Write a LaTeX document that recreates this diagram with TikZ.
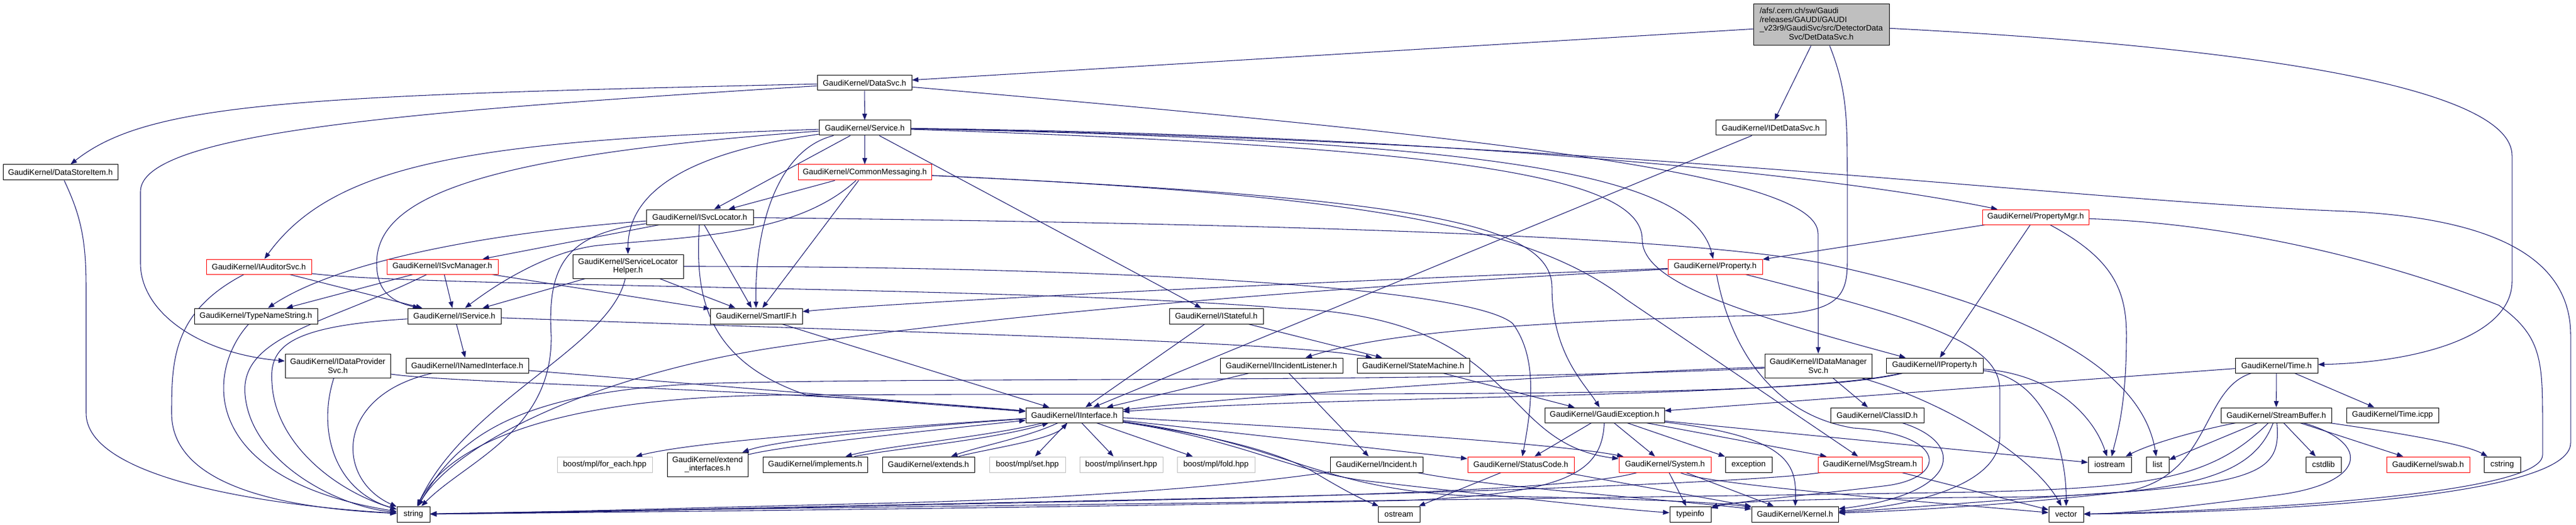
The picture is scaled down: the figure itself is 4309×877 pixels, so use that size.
\documentclass[tikz,border=0pt]{standalone}
\usepackage{fontspec}
\setmainfont{Liberation Sans}
\usetikzlibrary{arrows.meta}
\definecolor{edgec}{RGB}{25,25,112}
\definecolor{grey75}{RGB}{191,191,191}
\pgfdeclarelayer{bg}
\pgfsetlayers{bg,main}
\newcommand{\gn}[7][gbox]{\node[#1, minimum width={(#5-#3)*0.75pt}, minimum height={(#6-#4)*0.75pt}] (#2) at ({(#3+#5)/2},{(#4+#6)/2}) {#7};}
\begin{document}
\begin{tikzpicture}[x=0.75pt,y=-0.75pt,
  gbox/.style={draw=black, line width=0.75pt, fill=white, inner sep=0pt, align=center, font=\fontsize{10}{11}\selectfont, text=black},
  rbox/.style={gbox, draw=red},
  lbox/.style={gbox, draw=grey75},
  rootbox/.style={gbox, fill=grey75},
  dep/.style={draw=edgec, line width=0.8pt, -{Triangle[length=8pt,width=6pt]}}]
\useasboundingbox (0,0) rectangle (4309,877);

\gn[rootbox]{root}{2933}{7}{3160}{76}{\begin{tabular}{@{}l@{}}/afs/.cern.ch/sw/Gaudi\\/releases/GAUDI/GAUDI\\\_v23r9/GaudiSvc/src/DetectorData\\\multicolumn{1}{@{}c@{}}{Svc/DetDataSvc.h}\end{tabular}}
\gn{datasvc}{1367}{126}{1525}{151}{GaudiKernel/DataSvc.h}
\gn{service}{1370}{201}{1523}{226}{GaudiKernel/Service.h}
\gn{idetdatasvc}{2870}{201}{3054}{226}{GaudiKernel/IDetDataSvc.h}
\gn{datastoreitem}{5}{275}{197}{301}{GaudiKernel/DataStoreItem.h}
\gn[rbox]{commonmsg}{1335}{275}{1558}{301}{GaudiKernel/CommonMessaging.h}
\gn{isvclocator}{1081}{350}{1260}{375}{GaudiKernel/ISvcLocator.h}
\gn[rbox]{propertymgr}{3316}{350}{3494}{375}{GaudiKernel/PropertyMgr.h}
\gn[rbox]{iauditorsvc}{345}{433}{521}{458}{GaudiKernel/IAuditorSvc.h}
\gn[rbox]{isvcmanager}{647}{433}{833}{458}{GaudiKernel/ISvcManager.h}
\gn{svclochelper}{958}{425}{1143}{465}{GaudiKernel/ServiceLocator\\Helper.h}
\gn[rbox]{property}{2790}{433}{2948}{458}{GaudiKernel/Property.h}
\gn{typenamestring}{325}{515}{531}{541}{GaudiKernel/TypeNameString.h}
\gn{iservice}{682}{515}{838}{541}{GaudiKernel/IService.h}
\gn{smartif}{1188}{515}{1342}{541}{GaudiKernel/SmartIF.h}
\gn{istateful}{1956}{515}{2113}{541}{GaudiKernel/IStateful.h}
\gn{idataprovidersvc}{477}{591}{653}{631}{GaudiKernel/IDataProvider\\Svc.h}
\gn{inamedinterface}{679}{598}{884}{623}{GaudiKernel/INamedInterface.h}
\gn{iincidentlistener}{2041}{598}{2246}{623}{GaudiKernel/IIncidentListener.h}
\gn{statemachine}{2270}{598}{2458}{623}{GaudiKernel/StateMachine.h}
\gn{idatamanagersvc}{2952}{591}{3131}{631}{GaudiKernel/IDataManager\\Svc.h}
\gn{iproperty}{3155}{598}{3317}{623}{GaudiKernel/IProperty.h}
\gn{time}{3739}{598}{3877}{623}{GaudiKernel/Time.h}
\gn{iinterface}{1716}{681}{1878}{706}{GaudiKernel/IInterface.h}
\gn{gaudiexception}{2584}{681}{2784}{706}{GaudiKernel/GaudiException.h}
\gn{classid}{3062}{681}{3218}{706}{GaudiKernel/ClassID.h}
\gn{streambuffer}{3715}{681}{3900}{706}{GaudiKernel/StreamBuffer.h}
\gn{timeicpp}{3925}{681}{4079}{706}{GaudiKernel/Time.icpp}
\gn[lbox]{foreach}{932}{763}{1091}{789}{boost/mpl/for\_each.hpp}
\gn{extendinterfaces}{1116}{756}{1251}{796}{GaudiKernel/extend\\\_interfaces.h}
\gn{implements}{1276}{763}{1451}{789}{GaudiKernel/implements.h}
\gn{extends}{1476}{763}{1630}{789}{GaudiKernel/extends.h}
\gn[lbox]{mplset}{1655}{763}{1782}{789}{boost/mpl/set.hpp}
\gn[lbox]{mplinsert}{1806}{763}{1945}{789}{boost/mpl/insert.hpp}
\gn[lbox]{mplfold}{1969}{763}{2099}{789}{boost/mpl/fold.hpp}
\gn{incident}{2225}{763}{2380}{789}{GaudiKernel/Incident.h}
\gn[rbox]{statuscode}{2455}{763}{2633}{789}{GaudiKernel/StatusCode.h}
\gn[rbox]{system}{2708}{763}{2862}{789}{GaudiKernel/System.h}
\gn{exception}{2886}{763}{2964}{789}{exception}
\gn[rbox]{msgstream}{3041}{763}{3215}{789}{GaudiKernel/MsgStream.h}
\gn{iostream}{3493}{763}{3565}{789}{iostream}
\gn{list}{3590}{763}{3628}{789}{list}
\gn{cstdlib}{3857}{763}{3916}{789}{cstdlib}
\gn[rbox]{swab}{3992}{763}{4131}{789}{GaudiKernel/swab.h}
\gn{cstring}{4155}{763}{4216}{789}{cstring}
\gn{string}{664}{846}{719}{872}{string}
\gn{ostream}{2305}{846}{2375}{872}{ostream}
\gn{typeinfo}{2793}{846}{2862}{872}{typeinfo}
\gn{kernel}{2930}{846}{3075}{872}{GaudiKernel/Kernel.h}
\gn{vector}{3427}{846}{3485}{872}{vector}

\begin{pgfonlayer}{bg}
% root
\draw[dep] (root) -- (datasvc);
\draw[dep] (root) -- (idetdatasvc);
\draw[dep] (root) .. controls (3090,150) and (3090,200) .. (3090,300) -- (3090,440) .. controls (3090,510) and (3060,526) .. (2900,528) .. controls (2500,540) and (2300,560) .. (iincidentlistener);
\draw[dep] (root) .. controls (3800,80) and (4202,150) .. (4202,260) -- (4202,470) .. controls (4202,560) and (4050,605) .. (time);
% datasvc
\draw[dep] (datasvc) -- (service);
\draw[dep] (datasvc) .. controls (500,160) and (250,170) .. (datastoreitem);
\draw[dep] (datasvc) .. controls (700,185) and (235,220) .. (235,320) -- (235,440) .. controls (235,520) and (330,590) .. (idataprovidersvc);
\draw[dep] (datasvc) .. controls (2500,230) and (3041,290) .. (3041,390) -- (idatamanagersvc);
% service
\draw[dep] (service) -- (commonmsg);
\draw[dep] (service) -- (isvclocator);
\draw[dep] (service) .. controls (1150,255) and (1050,320) .. (svclochelper);
\draw[dep] (service) .. controls (800,235) and (560,270) .. (iauditorsvc);
\draw[dep] (service) .. controls (800,260) and (630,330) .. (630,440) .. controls (630,490) and (660,505) .. (iservice);
\draw[dep] (service) .. controls (1300,250) and (1262,380) .. (smartif);
\draw[dep] (service) -- (istateful);
\draw[dep] (service) .. controls (2400,225) and (3050,290) .. (propertymgr);
\draw[dep] (service) .. controls (2500,235) and (2830,290) .. (property);
\draw[dep] (service) .. controls (2400,245) and (2747,290) .. (2747,400) .. controls (2747,470) and (2900,520) .. (iproperty);
\draw[dep] (service) .. controls (2700,235) and (3400,330) .. (3900,352) .. controls (4150,360) and (4300,420) .. (4300,560) -- (4300,740) .. controls (4300,830) and (3800,856) .. (vector);
% commonmsg
\draw[dep] (commonmsg) -- (isvclocator);
\draw[dep] (commonmsg) -- (smartif);
\draw[dep] (commonmsg) .. controls (1330,395) and (1150,395) .. (1000,410) .. controls (930,418) and (850,460) .. (iservice);
\draw[dep] (commonmsg) .. controls (2350,330) and (2596,370) .. (2596,480) .. controls (2596,590) and (2650,640) .. (gaudiexception);
\draw[dep] (commonmsg) .. controls (2250,325) and (2550,370) .. (2720,500) -- (msgstream);
% isvclocator
\draw[dep] (isvclocator) -- (isvcmanager);
\draw[dep] (isvclocator) .. controls (800,390) and (560,440) .. (typenamestring);
\draw[dep] (isvclocator) .. controls (950,390) and (915,440) .. (922,560) .. controls (925,720) and (780,770) .. (string);
\draw[dep] (isvclocator) -- (smartif);
\draw[dep] (isvclocator) .. controls (1164,480) and (1170,600) .. (1350,660) -- (iinterface);
\draw[dep] (isvclocator) .. controls (2000,372) and (2800,390) .. (3050,440) .. controls (3350,505) and (3580,600) .. (list);
% svclochelper
\draw[dep] (svclochelper) -- (iservice);
\draw[dep] (svclochelper) -- (smartif);
\draw[dep] (svclochelper) .. controls (1020,580) and (780,670) .. (string);
\draw[dep] (svclochelper) .. controls (1800,445) and (2450,475) .. (2530,540) .. controls (2575,600) and (2560,690) .. (statuscode);
% iauditorsvc
\draw[dep] (iauditorsvc) .. controls (290,520) and (287,600) .. (287,690) .. controls (287,820) and (500,850) .. (string);
\draw[dep] (iauditorsvc) -- (iservice);
\draw[dep] (iauditorsvc) .. controls (700,480) and (1700,478) .. (2150,515) .. controls (2550,530) and (2500,740) .. (system);
% isvcmanager
\draw[dep] (isvcmanager) -- (typenamestring);
\draw[dep] (isvcmanager) -- (iservice);
\draw[dep] (isvcmanager) -- (smartif);
\draw[dep] (isvcmanager) .. controls (550,540) and (400,560) .. (410,660) .. controls (420,770) and (560,845) .. (string);
% typenamestring, iservice, inamedinterface, idataprovidersvc, datastoreitem
\draw[dep] (typenamestring) .. controls (345,620) and (330,800) .. (string);
\draw[dep] (iservice) -- (inamedinterface);
\draw[dep] (iservice) .. controls (480,545) and (450,580) .. (455,640) .. controls (460,740) and (560,820) .. (string);
\draw[dep] (iservice) .. controls (1500,555) and (2150,570) .. (statemachine);
\draw[dep] (inamedinterface) -- (iinterface);
\draw[dep] (inamedinterface) .. controls (560,660) and (560,800) .. (string);
\draw[dep] (idataprovidersvc) .. controls (750,640) and (1300,650) .. (iinterface);
\draw[dep] (idataprovidersvc) .. controls (530,720) and (560,820) .. (string);
\draw[dep] (datastoreitem) .. controls (135,360) and (144,400) .. (144,480) -- (144,690) .. controls (144,800) and (450,845) .. (string);
% middle
\draw[dep] (smartif) -- (iinterface);
\draw[dep] (istateful) -- (iinterface);
\draw[dep] (istateful) -- (statemachine);
\draw[dep] (iincidentlistener) -- (iinterface);
\draw[dep] (iincidentlistener) -- (incident);
\draw[dep] (statemachine) -- (gaudiexception);
\draw[dep] (idetdatasvc) -- (iinterface);
% idatamanagersvc
\draw[dep] (idatamanagersvc) .. controls (2700,620) and (2100,660) .. (iinterface);
\draw[dep] (idatamanagersvc) .. controls (2400,640) and (1600,630) .. (1200,640) .. controls (850,650) and (760,740) .. (string);
\draw[dep] (idatamanagersvc) -- (classid);
\draw[dep] (idatamanagersvc) .. controls (3250,670) and (3400,760) .. (vector);
% iproperty
\draw[dep] (iproperty) .. controls (3000,665) and (2250,660) .. (iinterface);
\draw[dep] (iproperty) .. controls (3000,668) and (2300,655) .. (1300,660) .. controls (880,665) and (740,760) .. (string);
\draw[dep] (iproperty) .. controls (3420,630) and (3457,750) .. (vector);
\draw[dep] (iproperty) .. controls (3430,625) and (3500,690) .. (iostream);
% propertymgr
\draw[dep] (propertymgr) -- (property);
\draw[dep] (propertymgr) -- (iproperty);
\draw[dep] (propertymgr) .. controls (3530,430) and (3557,480) .. (3557,560) .. controls (3557,680) and (3540,730) .. (iostream);
\draw[dep] (propertymgr) .. controls (3700,372) and (3950,420) .. (4180,510) .. controls (4250,560) and (4253,600) .. (4253,700) -- (4253,760) .. controls (4253,830) and (3700,855) .. (vector);
% property
\draw[dep] (property) .. controls (2200,470) and (1500,505) .. (smartif);
\draw[dep] (property) .. controls (2300,475) and (1700,520) .. (1300,580) .. controls (1000,625) and (760,740) .. (string);
\draw[dep] (property) .. controls (3200,530) and (3345,570) .. (3345,650) -- (3345,730) .. controls (3345,810) and (3200,845) .. (kernel);
\draw[dep] (property) .. controls (2890,560) and (2950,690) .. (3100,715) .. controls (3260,725) and (3260,800) .. (3150,812) .. controls (3000,830) and (2900,838) .. (typeinfo);
% time
\draw[dep] (time) -- (gaudiexception);
\draw[dep] (time) -- (streambuffer);
\draw[dep] (time) -- (timeicpp);
\draw[dep] (time) .. controls (3680,650) and (3700,800) .. (3550,822) .. controls (3350,845) and (3150,855) .. (kernel);
% streambuffer
\draw[dep] (streambuffer) .. controls (3680,718) and (3600,740) .. (iostream);
\draw[dep] (streambuffer) -- (list);
\draw[dep] (streambuffer) -- (cstdlib);
\draw[dep] (streambuffer) -- (swab);
\draw[dep] (streambuffer) .. controls (3990,720) and (4120,740) .. (cstring);
\draw[dep] (streambuffer) .. controls (3700,800) and (3600,815) .. (3300,822) .. controls (2500,835) and (1000,852) .. (string);
\draw[dep] (streambuffer) .. controls (3770,790) and (3680,822) .. (3400,830) .. controls (3150,832) and (2900,835) .. (typeinfo);
\draw[dep] (streambuffer) .. controls (3815,780) and (3790,805) .. (3550,822) .. controls (3300,838) and (3150,852) .. (kernel);
\draw[dep] (streambuffer) .. controls (3970,740) and (3960,810) .. (3800,828) .. controls (3650,848) and (3550,858) .. (vector);
% gaudiexception
\draw[dep] (gaudiexception) -- (statuscode);
\draw[dep] (gaudiexception) -- (system);
\draw[dep] (gaudiexception) -- (exception);
\draw[dep] (gaudiexception) -- (msgstream);
\draw[dep] (gaudiexception) -- (iostream);
\draw[dep] (gaudiexception) .. controls (3000,730) and (3005,780) .. (kernel);
\draw[dep] (gaudiexception) .. controls (2680,790) and (2620,825) .. (2350,836) .. controls (1800,848) and (1000,856) .. (string);
% statuscode, system, msgstream, incident, classid
\draw[dep] (statuscode) -- (ostream);
\draw[dep] (statuscode) -- (kernel);
\draw[dep] (system) -- (typeinfo);
\draw[dep] (system) -- (kernel);
\draw[dep] (system) .. controls (2850,810) and (3300,845) .. (vector);
\draw[dep] (system) .. controls (2650,815) and (2300,828) .. (1800,838) .. controls (1300,848) and (1000,856) .. (string);
\draw[dep] (msgstream) .. controls (2950,805) and (2400,825) .. (1900,835) .. controls (1400,845) and (1000,855) .. (string);
\draw[dep] (msgstream) -- (vector);
\draw[dep] (incident) .. controls (2150,800) and (1900,830) .. (1500,840) .. controls (1100,850) and (900,856) .. (string);
\draw[dep] (incident) .. controls (2500,815) and (2800,835) .. (kernel);
\draw[dep] (classid) .. controls (3290,740) and (3280,825) .. (kernel);
% iinterface
\draw[dep] (iinterface) .. controls (1400,720) and (1150,740) .. (foreach);
\draw[dep] (iinterface) .. controls (1500,715) and (1300,735) .. (extendinterfaces);
\draw[dep] (extendinterfaces) .. controls (1310,745) and (1500,725) .. (iinterface);
\draw[dep] (iinterface) .. controls (1650,730) and (1480,745) .. (implements);
\draw[dep] (implements) .. controls (1490,750) and (1660,735) .. (iinterface);
\draw[dep] (iinterface) .. controls (1720,730) and (1640,745) .. (extends);
\draw[dep] (extends) .. controls (1650,750) and (1760,735) .. (iinterface);
\draw[dep] (iinterface) -- (mplset);
\draw[dep] (iinterface) -- (mplinsert);
\draw[dep] (iinterface) -- (mplfold);
\draw[dep] (iinterface) -- (statuscode);
\draw[dep] (iinterface) .. controls (2200,715) and (2600,740) .. (system);
\draw[dep] (iinterface) .. controls (2150,740) and (2200,815) .. (2450,828) .. controls (2700,832) and (2870,838) .. (kernel);
\draw[dep] (iinterface) .. controls (2050,730) and (2150,760) .. (2200,790) .. controls (2250,820) and (2280,835) .. (ostream);
\draw[dep] (iinterface) .. controls (2080,735) and (2160,790) .. (2300,805) .. controls (2500,828) and (2700,850) .. (typeinfo);
\end{pgfonlayer}
\end{tikzpicture}
\end{document}
